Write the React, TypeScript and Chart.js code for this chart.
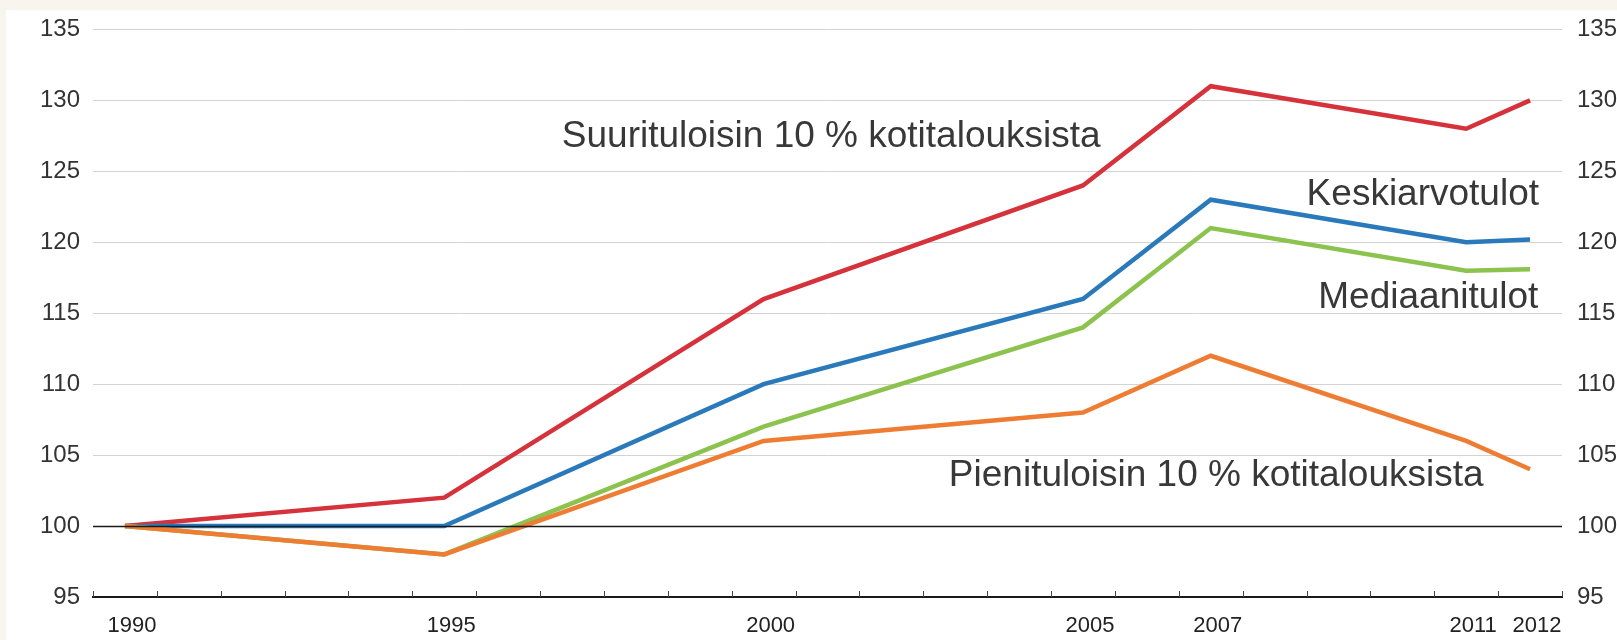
import React, { useEffect, useRef } from "react";
import { Chart, registerables } from "chart.js";

Chart.register(...registerables);

const years: number[] = [];
for (let y = 1990; y <= 2012; y++) years.push(y);

const shownYears = [1990, 1995, 2000, 2005, 2007, 2011, 2012];

// values indexed by shownYears
const topTenth = [100, 102, 116, 124, 131, 128, 130];
const meanIncome = [100, 100, 110, 116, 123, 120, 120.2];
const medianIncome = [100, 98, 107, 114, 121, 118, 118.1];
const bottomTenth = [100, 98, 106, 108, 112, 106, 104];

const yTicks = [95, 100, 105, 110, 115, 120, 125, 130, 135];

const annotations = [
  { text: "Suurituloisin 10 % kotitalouksista", x: 6.84, y: 126.7, align: "left" },
  { text: "Keskiarvotulot", x: 22.14, y: 122.6, align: "right" },
  { text: "Mediaanitulot", x: 22.13, y: 115.4, align: "right" },
  { text: "Pienituloisin 10 % kotitalouksista", x: 12.9, y: 102.8, align: "left" },
];

function spread(vals: number[]): (number | null)[] {
  return years.map((y) => {
    const i = shownYears.indexOf(y);
    return i >= 0 ? vals[i] : null;
  });
}

const FONT = "'Liberation Sans', Arial, Helvetica, sans-serif";

export default function App() {
  const ref = useRef<HTMLCanvasElement | null>(null);
  useEffect(() => {
    document.body.style.margin = "0";
    const canvas = ref.current!;
    const tickPlugin = {
      id: "customDecor",
      afterDatasetsDraw(chart: any) {
        const ctx = chart.ctx;
        const xs = chart.scales.x;
        const ys = chart.scales.y;
        const area = chart.chartArea;
        ctx.save();
        const y100 = Math.round(ys.getPixelForValue(100)) + 0.5;
        ctx.strokeStyle = "#1a1a1a";
        ctx.lineWidth = 1.5;
        ctx.beginPath();
        ctx.moveTo(area.left, y100);
        ctx.lineTo(area.right, y100);
        ctx.stroke();
        ctx.strokeStyle = "#444";
        ctx.lineWidth = 1;
        for (let i = 0; i <= years.length; i++) {
          const x = Math.round(xs.getPixelForValue(i - 0.5)) + 0.5;
          ctx.beginPath();
          ctx.moveTo(x, area.bottom - 6);
          ctx.lineTo(x, area.bottom);
          ctx.stroke();
        }
        ctx.fillStyle = "#383838";
        ctx.font = `37px ${FONT}`;
        ctx.textBaseline = "alphabetic";
        for (const a of annotations) {
          ctx.textAlign = a.align as CanvasTextAlign;
          ctx.fillText(a.text, xs.getPixelForValue(a.x), ys.getPixelForValue(a.y));
        }
        ctx.restore();
      },
    };
    const mk = (label: string, vals: number[], color: string) => ({
      label,
      data: spread(vals),
      borderColor: color,
      backgroundColor: color,
      borderWidth: 4.5,
      pointRadius: 0,
      tension: 0,
      spanGaps: true,
      borderJoinStyle: "miter" as const,
      fill: false,
    });
    const chart = new Chart(canvas, {
      type: "line",
      data: {
        labels: years.map(String),
        datasets: [
          mk("Pienituloisin 10 % kotitalouksista", bottomTenth, "#ee7d33"),
          mk("Mediaanitulot", medianIncome, "#8cc24e"),
          mk("Keskiarvotulot", meanIncome, "#2a7abb"),
          mk("Suurituloisin 10 % kotitalouksista", topTenth, "#d6323b"),
        ],
      },
      options: {
        responsive: false,
        animation: false,
        layout: { padding: { top: 29, left: 0, right: 0, bottom: 0 } },
        plugins: { legend: { display: false }, tooltip: { enabled: false } },
        scales: {
          x: {
            type: "category",
            offset: true,
            grid: { offset: true, drawOnChartArea: false, drawTicks: false },
            border: { display: true, color: "#1a1a1a", width: 2 },
            ticks: {
              autoSkip: false,
              maxRotation: 0,
              padding: 16,
              labelOffset: 7,
              color: "#222",
              font: { family: FONT, size: 22 },
              callback: (_v: any, i: number) =>
                shownYears.includes(years[i]) ? String(years[i]) : "",
            },
            afterFit: (s: any) => {
              s.height = 43;
            },
          },
          y: {
            position: "left",
            min: 95,
            max: 135,
            afterBuildTicks: (s: any) => {
              s.ticks = yTicks.map((v) => ({ value: v }));
            },
            grid: {
              drawTicks: false,
              color: (c: any) =>
                c.tick && (c.tick.value === 95 || c.tick.value === 100)
                  ? "rgba(0,0,0,0)"
                  : "#d3d3d3",
              lineWidth: 1,
            },
            border: { display: false },
            ticks: { padding: 13, color: "#333", font: { family: FONT, size: 24 } },
            afterFit: (s: any) => {
              s.width = 93;
            },
          },
          y2: {
            position: "right",
            min: 95,
            max: 135,
            afterBuildTicks: (s: any) => {
              s.ticks = yTicks.map((v) => ({ value: v }));
            },
            grid: { display: false, drawTicks: false },
            border: { display: false },
            ticks: { padding: 15, color: "#333", font: { family: FONT, size: 24 } },
            afterFit: (s: any) => {
              s.width = 55;
            },
          },
        },
      },
      plugins: [tickPlugin],
    } as any);
    return () => chart.destroy();
  }, []);
  return (
    <div style={{ position: "relative", width: 1617, height: 640, background: "#f8f4ee", overflow: "hidden" }}>
      <div style={{ position: "absolute", left: 6, top: 10, right: 0, bottom: 0, background: "#ffffff" }} />
      <canvas
        ref={ref}
        width={1617}
        height={640}
        style={{ position: "absolute", left: 0, top: 0, width: 1617, height: 640 }}
      />
    </div>
  );
}
